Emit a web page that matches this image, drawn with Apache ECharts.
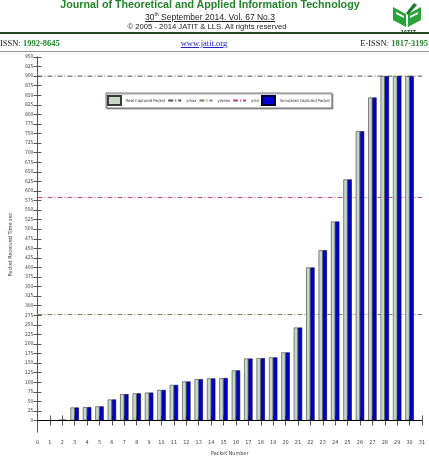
<!DOCTYPE html>
<html>
<head>
<meta charset="utf-8">
<script src="https://cdn.jsdelivr.net/npm/echarts@6/dist/echarts.min.js"></script>
<style type="text/css">
    body { margin: 0; background: #fff; }
    #chart { position: absolute; left: 0; top: 0; width: 429px; height: 462px; }
    .hd { position: absolute; white-space: nowrap; z-index: 2; }
    .jt { left: 0; width: 420px; top: -2px; text-align: center; font: bold 10.7px "Liberation Sans", Arial, sans-serif; color: #23862a; }
    .dt { left: 0; width: 420px; top: 11px; text-align: center; font: 8.5px "Liberation Sans", Arial, sans-serif; color: #222; }
    .dt sup { font-size: 5px; }
    .cr { left: 0; width: 414px; top: 21.5px; text-align: center; font: 7.7px "Liberation Sans", Arial, sans-serif; color: #222; }
    .rule { left: 0; width: 429px; top: 32px; height: 2px; background: #1f4a22; }
    .thin { left: 0; width: 429px; top: 51px; height: 1px; background: #999; }
    .issn { font: 8.5px "Liberation Serif", "Times New Roman", serif; color: #111; top: 38px; }
    .issn b { color: #23862a; }
    .web { left: 0; width: 408px; text-align: center; color: #2222cc; text-decoration: underline; }
    .logo { left: 392px; top: 3px; }
</style>
</head>
<body>
<div class="hd jt">Journal of Theoretical and Applied Information Technology</div>
<div class="hd dt"><u>30<sup>th</sup> September 2014. Vol. 67 No.3</u></div>
<div class="hd cr">© 2005 - 2014 JATIT &amp; LLS. All rights reserved</div>
<div class="hd rule"></div>
<div class="hd logo">
    <svg width="32" height="31" viewBox="0 0 32 31">
        <polygon points="1,4 14,11 14,24 1,17" fill="#2aa33a"/>
        <polygon points="16,11 29,4 29,17 16,24" fill="#2aa33a"/>
        <polygon points="4,9 12,13 12,15 4,11" fill="#fff"/>
        <polygon points="18,13 26,9 26,11 18,15" fill="#fff"/>
        <polygon points="14,10 22,0 25,2 16,12" fill="#1d7a2a"/>
        <text x="16" y="30.5" text-anchor="middle" font-family="Liberation Sans, Arial" font-weight="bold" font-size="6" fill="#1f4a22">JATIT</text>
    </svg>
</div>
<div class="hd issn" style="left:0">ISSN: <b>1992-8645</b></div>
<div class="hd issn web">www.jatit.org</div>
<div class="hd issn" style="right:1px">E-ISSN: <b>1817-3195</b></div>
<div class="hd thin"></div>
<div id="chart"></div>

<script type="text/javascript">
    // packet numbers and received time
    let packets = [1, 2, 3, 4, 5, 6, 7, 8, 9, 10, 11, 12, 13, 14, 15,
        16, 17, 18, 19, 20, 21, 22, 23, 24, 25, 26, 27, 28, 29, 30];
    let realPacket = [0, 2, 34, 35, 37, 55, 69, 71, 73, 80, 93, 102, 108, 110, 111,
        131, 162, 163, 165, 178, 243, 400, 445, 520, 630, 756, 844, 900, 900, 900];
    let simPacket = [0, 2, 34, 35, 37, 55, 69, 71, 73, 80, 93, 102, 108, 110, 111,
        131, 162, 163, 165, 178, 243, 400, 445, 520, 630, 756, 844, 900, 900, 900];

    // statistic lines
    let ymax = 900;
    let ymean = 277;
    let ystd = 583;

    let yTicks = [0, 25, 50, 75, 100, 125, 150, 175, 200, 225, 250, 275, 300, 325, 350,
        375, 400, 425, 450, 475, 500, 525, 550, 575, 600, 625, 650, 675, 700, 725,
        750, 775, 800, 825, 850, 875, 900, 925, 950];
    let xMin = 0, xMax = 31;
    let yMin = -30, yMax = 950;

    let smallFont = '"Liberation Sans Narrow", "DejaVu Sans Condensed", "Liberation Sans", sans-serif';
    let dashDot = [5, 2, 1, 2];

    function pairs(vals) {
        return packets.map(function (p, i) { return [p, vals[i]]; });
    }
    function flat(v) {
        return [[xMin, v], [xMax, v]];
    }
    function statLine(name, v, color) {
        return {
            name: name,
            type: 'line',
            data: flat(v),
            symbol: 'none',
            silent: true,
            z: 1,
            itemStyle: { color: color },
            lineStyle: { color: color, width: 1, type: dashDot }
        };
    }
    // legend entry for a line: hide the circle, keep the dash-dot stroke
    function lineKey(name) {
        return { name: name, itemStyle: { opacity: 0 } };
    }

    let opt = {
        animation: false,
        grid: { left: 17, right: 7, top: 57, bottom: 30 },
        legend: {
            data: [
                { name: 'Real Captured Packet', icon: 'rect' },
                lineKey('ymax'), lineKey('ymean'), lineKey('ystd'),
                { name: 'Simulated Captured Packet', icon: 'rect' }
            ],
            left: 106,
            top: 93,
            itemWidth: 13,
            itemHeight: 9,
            itemGap: 2,
            padding: [2, 2, 2, 1],
            backgroundColor: '#fff',
            borderColor: '#777',
            borderWidth: 1,
            shadowColor: 'rgba(0,0,0,0.35)',
            shadowOffsetX: 1,
            shadowOffsetY: 1,
            textStyle: { fontSize: 4.1, color: '#333', fontFamily: smallFont }
        },
        xAxis: [{
            type: 'value',
            min: xMin,
            max: xMax,
            interval: 1,
            name: 'Packet Number',
            nameLocation: 'middle',
            nameGap: 12,
            nameTextStyle: { fontSize: 5.5, color: '#444', fontFamily: smallFont },
            axisLine: { show: true, lineStyle: { color: '#555', width: 1 } },
            axisTick: { show: true, inside: true, length: 5, lineStyle: { color: '#555' } },
            axisLabel: { fontSize: 5.5, color: '#444', margin: 8, fontFamily: smallFont },
            splitLine: { show: false }
        }, {
            type: 'value',
            position: 'top',
            min: xMin,
            max: xMax,
            interval: 1,
            axisLine: { show: true, lineStyle: { color: '#555', width: 1 } },
            axisTick: { show: true, inside: true, length: 5, lineStyle: { color: '#555' } },
            axisLabel: { show: false },
            splitLine: { show: false }
        }],
        yAxis: [{
            type: 'value',
            min: yMin,
            max: yMax,
            name: 'Packet Received Time sec',
            nameLocation: 'middle',
            nameGap: 11,
            nameTextStyle: { fontSize: 5.5, color: '#444', fontFamily: smallFont },
            axisLine: { show: true, lineStyle: { color: '#555', width: 1 } },
            axisTick: { show: true, inside: true, length: 4, customValues: yTicks, lineStyle: { color: '#555' } },
            axisLabel: { fontSize: 5, color: '#444', margin: 4, customValues: yTicks, fontFamily: smallFont },
            splitLine: { show: false }
        }, {
            type: 'value',
            position: 'right',
            min: yMin,
            max: yMax,
            axisLine: { show: true, lineStyle: { color: '#555', width: 1 } },
            axisTick: { show: true, inside: true, length: 4, customValues: yTicks, lineStyle: { color: '#555' } },
            axisLabel: { show: false },
            splitLine: { show: false }
        }],
        series: [{
            name: 'Real Captured Packet',
            type: 'bar',
            data: pairs(realPacket),
            barWidth: 4.2,
            barGap: '0%',
            itemStyle: { color: '#c6d8c6', borderColor: '#3a3a3a', borderWidth: 0.6 },
            markLine: {
                silent: true,
                symbol: ['none', 'none'],
                label: { show: false },
                lineStyle: { color: '#000', type: 'solid', width: 1 },
                data: [{ yAxis: 0 }]
            }
        }, {
            name: 'Simulated Captured Packet',
            type: 'bar',
            data: pairs(simPacket),
            barWidth: 4.2,
            barGap: '0%',
            itemStyle: { color: '#0000d2', borderColor: '#000033', borderWidth: 0.6 }
        },
            statLine('ymax', ymax, '#555'),
            statLine('ymean', ymean, '#6f8a5c'),
            statLine('ystd', ystd, '#c8407a')
        ]
    };

    let chart = echarts.init(document.getElementById('chart'));
    chart.setOption(opt);
</script>
</body>
</html>
